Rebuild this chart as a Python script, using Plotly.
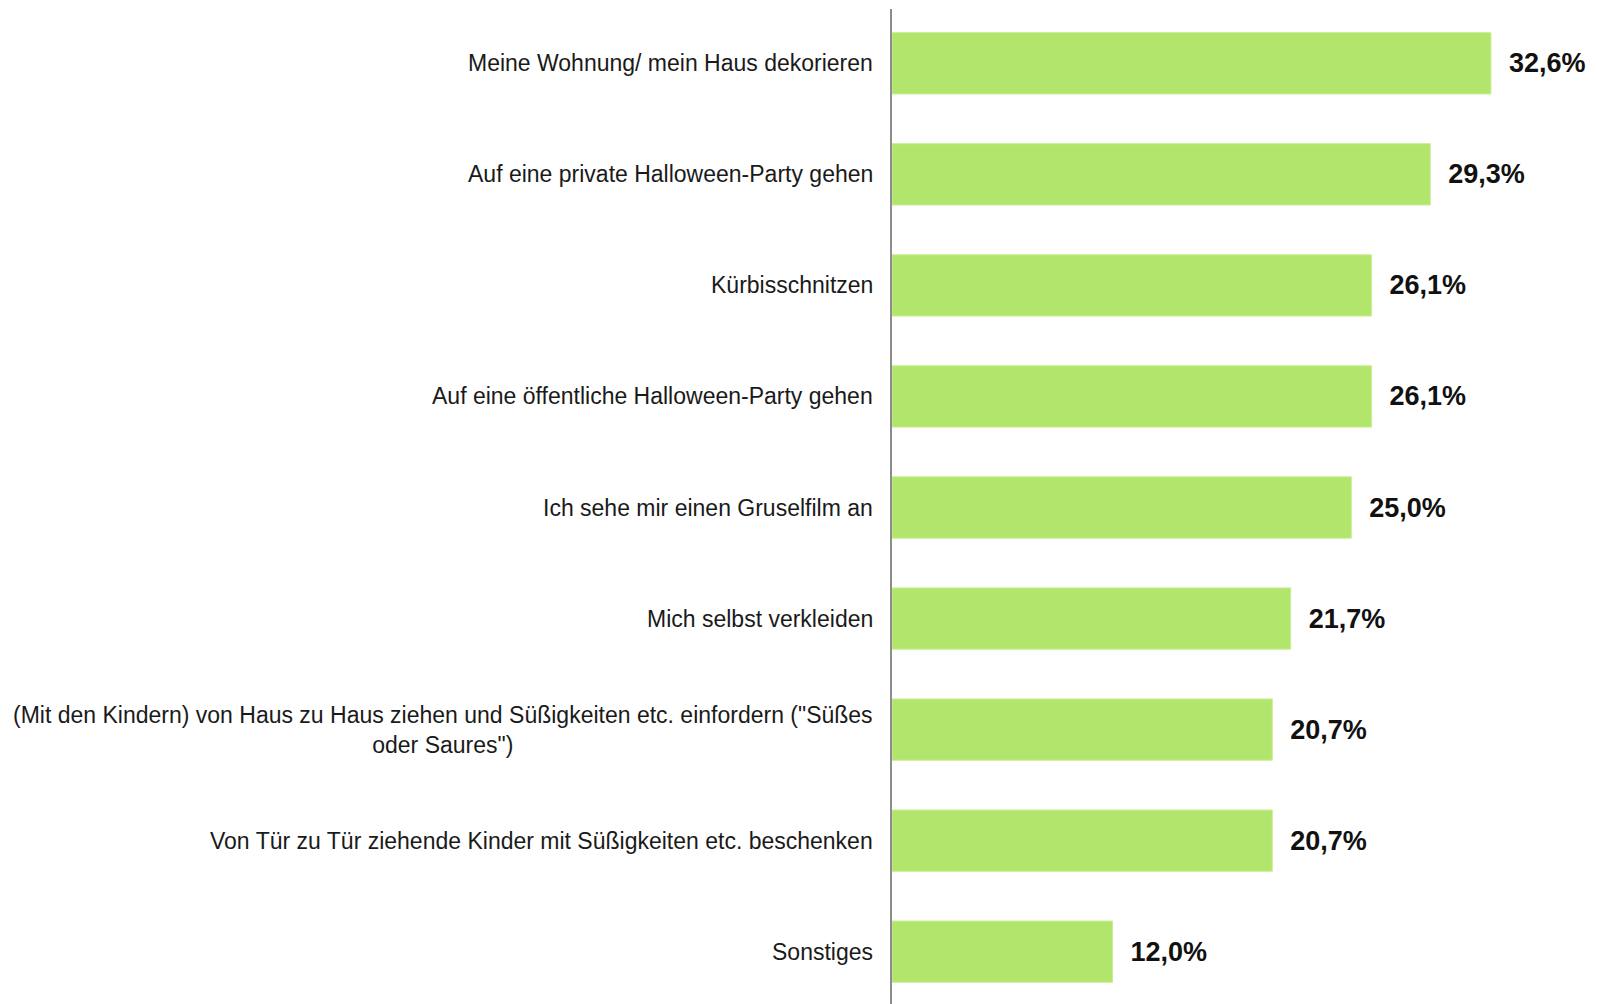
import plotly.graph_objects as go

categories = [
    "Meine Wohnung/ mein Haus dekorieren",
    "Auf eine private Halloween-Party gehen",
    "Kürbisschnitzen",
    "Auf eine öffentliche Halloween-Party gehen",
    "Ich sehe mir einen Gruselfilm an",
    "Mich selbst verkleiden",
    "(Mit den Kindern) von Haus zu Haus ziehen und Süßigkeiten etc. einfordern (\"Süßes<br>oder Saures\")",
    "Von Tür zu Tür ziehende Kinder mit Süßigkeiten etc. beschenken",
    "Sonstiges",
]
values = [32.6, 29.3, 26.1, 26.1, 25.0, 21.7, 20.7, 20.7, 12.0]

BAR_COLOR = "#B2E56B"
FONT = "Liberation Sans, Arial, sans-serif"

fig = go.Figure()
fig.add_trace(go.Bar(
    y=list(range(len(categories))),
    x=values,
    orientation="h",
    marker=dict(color=BAR_COLOR, line=dict(color="#C8EE94", width=1)),
    width=0.552,
    texttemplate="  %{x:.1f}%",
    textposition="outside",
    textfont=dict(family=FONT, size=27, color="#111111", weight="bold"),
    constraintext="none",
    cliponaxis=False,
    hoverinfo="skip",
))

annotations = []
for i, c in enumerate(categories):
    annotations.append(dict(
        x=0, xref="paper", y=i, yref="y",
        text=c, showarrow=False,
        xanchor="right", yanchor="middle", align="center",
        xshift=-17,
        font=dict(family=FONT, size=23, color="#1a1a1a"),
    ))

fig.update_layout(
    width=1589, height=996,
    margin=dict(l=884, r=5, t=1, b=0),
    paper_bgcolor="white", plot_bgcolor="white",
    separators=",.",
    showlegend=False,
    annotations=annotations,
    xaxis=dict(range=[0, 38.1], showgrid=False, zeroline=False,
               showticklabels=False, showline=False, fixedrange=True),
    yaxis=dict(range=[8.471, -0.489], showgrid=False, zeroline=False,
               showticklabels=False, showline=True, linecolor="#8c8c8c",
               linewidth=1.5, fixedrange=True),
)

fig.write_html("out.html")
